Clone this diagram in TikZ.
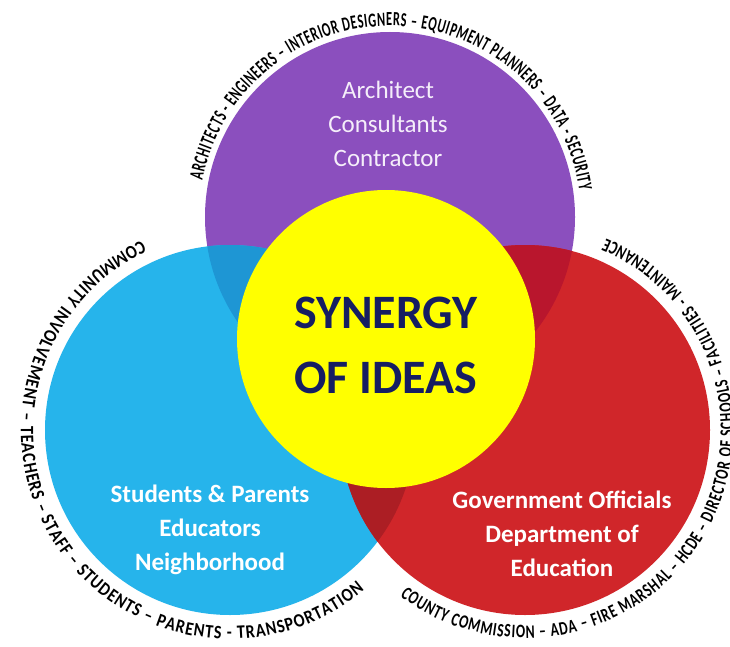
\documentclass[tikz,border=0pt]{standalone}
\usepackage{fontspec}
\setmainfont{Carlito}
\newfontfamily\topfont{Carlito}[FakeStretch=0.62]
\newfontfamily\sidefont{Carlito}[FakeStretch=0.85]
\newfontfamily\rightfont{Carlito}[FakeStretch=0.72]
\usetikzlibrary{decorations.text}
\definecolor{cpurple}{RGB}{139,79,190}
\definecolor{cblue}{RGB}{38,180,235}
\definecolor{cbluedark}{RGB}{30,150,212}
\definecolor{cred}{RGB}{208,38,42}
\definecolor{credp}{RGB}{185,22,45}
\definecolor{credb}{RGB}{172,30,36}
\definecolor{cyellow}{RGB}{255,255,0}
\definecolor{cnavy}{RGB}{22,30,98}
\definecolor{clav}{RGB}{245,238,250}
\begin{document}
\begin{tikzpicture}[x=1pt,y=1pt,
  lbl/.style={align=center, text=white, font=\fontsize{25}{34}\selectfont},
  lblb/.style={lbl, font=\bfseries\fontsize{25}{34}\selectfont},
  hub/.style={align=center, text=cnavy, font=\bfseries\fontsize{48}{65}\selectfont}]
\useasboundingbox (0,0) rectangle (730,-647);
\fill[white] (0,0) rectangle (730,-647);
\coordinate (P) at (390,-217);
\coordinate (B) at (230,-430);
\coordinate (R) at (525,-430);
\coordinate (Y) at (386,-339);
% circles
\fill[cpurple] (P) circle[radius=185pt];
\fill[cblue] (B) circle[radius=185pt];
\begin{scope}
  \clip (P) circle[radius=185pt];
  \fill[cbluedark] (B) circle[radius=185pt];
\end{scope}
\fill[cred] (R) circle[radius=185pt];
\begin{scope}
  \clip (P) circle[radius=185pt];
  \fill[credp] (R) circle[radius=185pt];
\end{scope}
\begin{scope}
  \clip (B) circle[radius=185pt];
  \fill[credb] (R) circle[radius=185pt];
\end{scope}
\fill[cyellow] (Y) circle[radius=149pt];
% labels
\node[lbl, text=clav] (arch) at (388,-124) {Architect\\Consultants\\Contractor};
\node[lblb] (stud) at (210,-530) {Students \& Parents\\Educators\\Neighborhood};
\node[lblb] (gov) at (562,-534) {Government Officials\\Department of\\Education};
\node[hub] (syn) at (386,-345) {SYNERGY\\OF IDEAS};
% arc texts
\path[shift={(P)}, decorate, decoration={text along path, text align=fit to path,
  text={|\topfont\bfseries\fontsize{20}{20}\selectfont|ARCHITECTS - ENGINEERS – INTERIOR DESIGNERS – EQUIPMENT PLANNERS – DATA - SECURITY}}]
  (169:191pt) arc[start angle=169, end angle=8, radius=191pt];
\path[shift={(B)}, decorate, decoration={text along path, text align=fit to path,
  text={|\sidefont\bfseries\fontsize{19}{19}\selectfont|COMMUNITY INVOLVEMENT – TEACHERS – STAFF – STUDENTS – PARENTS - TRANSPORTATION}}]
  (115:209pt) arc[start angle=115, end angle=310, radius=209pt];
\path[shift={(R)}, decorate, decoration={text along path, text align=fit to path,
  text={|\rightfont\bfseries\fontsize{19}{19}\selectfont|COUNTY COMMISSION – ADA – FIRE MARSHAL – HCDE – DIRECTOR OF SCHOOLS – FACILITIES - MAINTENANCE}}]
  (233:208pt) arc[start angle=233, end angle=427, radius=208pt];
\end{tikzpicture}
\end{document}
